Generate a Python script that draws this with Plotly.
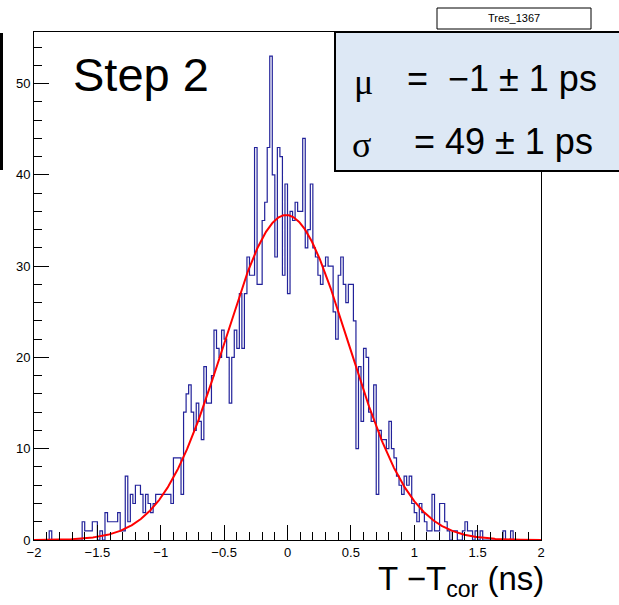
import numpy as np
import plotly.graph_objects as go

# Histogram definition (200 bins from -2 to 2 ns)
XMIN, XMAX, NBINS = -2.0, 2.0, 200
counts = [
    0, 0, 0, 0, 0, 0, 1, 0, 0, 0,
    0, 0, 0, 0, 0, 0, 0, 0, 0, 2,
    1, 1, 1, 2, 2, 0, 1, 0, 3, 2,
    2, 2, 2, 3, 1, 1, 7, 2, 5, 4,
    6, 6, 5, 3, 5, 4, 3, 4, 5, 5,
    5, 5, 5, 5, 4, 9, 9, 9, 5, 14,
    16, 17, 14, 12, 15, 13, 11, 19, 15, 15,
    18, 23, 21, 20, 23, 22, 20, 15, 20, 23,
    21, 27, 21, 27, 31, 29, 29, 43, 28, 28,
    35, 37, 43, 53, 40, 31, 43, 42, 29, 39,
    27, 36, 35, 37, 36, 36, 44, 32, 34, 39,
    32, 31, 29, 28, 30, 31, 30, 30, 25, 22,
    29, 31, 28, 26, 28, 28, 24, 10, 19, 13,
    21, 20, 14, 13, 17, 5, 12, 11, 11, 10,
    13, 10, 9, 7, 6, 5, 7, 6, 7, 4,
    3, 2, 4, 3, 2, 1, 1, 5, 1, 1,
    4, 4, 2, 1, 0, 1, 1, 0, 0, 1,
    2, 1, 1, 0, 1, 0, 1, 0, 0, 0,
    0, 0, 0, 0, 0, 1, 0, 0, 1, 0,
    0, 0, 0, 0, 0, 0, 0, 0, 0, 0,
]

# Gaussian fit parameters (ns)
FIT_AMP, FIT_MEAN, FIT_SIGMA = 35.6, -0.01, 0.49
YMAX = 55.65

x_tick_vals = [-2, -1.5, -1, -0.5, 0, 0.5, 1, 1.5, 2]
x_tick_text = ["\u22122", "\u22121.5", "\u22121", "\u22120.5", "0", "0.5", "1", "1.5", "2"]
y_tick_vals = [0, 10, 20, 30, 40, 50]
y_tick_text = ["0", "10", "20", "30", "40", "50"]

edges = np.linspace(XMIN, XMAX, NBINS + 1)
hx = [edges[0]] + list(edges[:-1]) + [edges[-1], edges[-1]]
hy = [0] + list(counts) + [counts[-1], 0]

fx = np.linspace(XMIN, XMAX, 801)
fy = FIT_AMP * np.exp(-0.5 * ((fx - FIT_MEAN) / FIT_SIGMA) ** 2)

fig = go.Figure()
fig.add_trace(go.Scatter(x=hx, y=hy, mode="lines", line=dict(color="#22229a", width=1.2, shape="hv"),
                         hoverinfo="skip", showlegend=False))
fig.add_trace(go.Scatter(x=fx, y=fy, mode="lines", line=dict(color="#ff0000", width=2),
                         hoverinfo="skip", showlegend=False))

FONT = "Liberation Sans, Arial, Helvetica, sans-serif"
SERIF = "Liberation Serif, Times New Roman, serif"
fig.update_layout(
    width=619, height=605,
    margin=dict(l=34, r=78, t=32, b=65, pad=0),
    paper_bgcolor="white", plot_bgcolor="white",
    font=dict(family=FONT, color="black", size=13),
    showlegend=False,
    xaxis=dict(range=[XMIN, XMAX], tickvals=x_tick_vals, ticktext=x_tick_text,
               ticks="inside", ticklen=15, tickcolor="black", tickwidth=1,
               showline=True, linecolor="black", linewidth=1, mirror=True,
               showgrid=False, zeroline=False,
               minor=dict(dtick=0.1, tick0=0, ticks="inside", ticklen=8, tickcolor="black", showgrid=False),
               tickfont=dict(size=13, family=FONT)),
    yaxis=dict(range=[0, YMAX], tickvals=y_tick_vals, ticktext=y_tick_text,
               ticks="inside", ticklen=15, tickcolor="black", tickwidth=1,
               showline=True, linecolor="black", linewidth=1, mirror=True,
               showgrid=False, zeroline=False,
               minor=dict(dtick=2, tick0=0, ticks="inside", ticklen=8, tickcolor="black", showgrid=False),
               tickfont=dict(size=13, family=FONT)),
)

L, T, PW, PH = 34, 32, 507, 508
def px(x):
    return (x - L) / PW
def py(y):
    return 1 - (y - T) / PH

shapes = []
# clipped box edge at the far left
shapes.append(dict(type="line", xref="paper", yref="paper", x0=px(1.5), x1=px(1.5),
                   y0=py(33), y1=py(170), line=dict(color="black", width=3)))
# Stats box
shapes.append(dict(type="rect", xref="paper", yref="paper", x0=px(335), x1=px(620), y0=py(171), y1=py(32),
                   fillcolor="#dde8f5", line=dict(color="black", width=2), layer="above"))
# Title box
shapes.append(dict(type="rect", xref="paper", yref="paper", x0=px(437), x1=px(591), y0=py(29), y1=py(8),
                   fillcolor="white", line=dict(color="black", width=1), layer="above"))
fig.update_layout(shapes=shapes)

ann = []
ann.append(dict(text="Tres_1367", x=px(514), y=py(18), xref="paper", yref="paper",
                showarrow=False, xanchor="center", yanchor="middle", font=dict(size=11, family=FONT)))
ann.append(dict(text="Step 2", x=px(71), y=py(75), xref="paper", yref="paper",
                showarrow=False, xanchor="left", yanchor="middle", font=dict(size=47, family=FONT)))
ann.append(dict(text="\u03bc", x=px(352), y=py(82), xref="paper", yref="paper",
                showarrow=False, xanchor="left", yanchor="middle", font=dict(size=36, family=SERIF)))
ann.append(dict(text="=  \u22121 \u00b1 1 ps", x=px(405), y=py(78), xref="paper", yref="paper",
                showarrow=False, xanchor="left", yanchor="middle", font=dict(size=36, family=FONT)))
ann.append(dict(text="\u03c3", x=px(350), y=py(145), xref="paper", yref="paper",
                showarrow=False, xanchor="left", yanchor="middle", font=dict(size=36, family=SERIF)))
ann.append(dict(text="= 49 \u00b1 1 ps", x=px(412), y=py(141), xref="paper", yref="paper",
                showarrow=False, xanchor="left", yanchor="middle", font=dict(size=36, family=FONT)))
ann.append(dict(text="T \u2212T<sub>cor</sub> (ns)", x=px(546), y=py(581), xref="paper", yref="paper",
                showarrow=False, xanchor="right", yanchor="middle", font=dict(size=33, family=FONT)))
fig.update_layout(annotations=ann)

fig.write_html("out.html")
